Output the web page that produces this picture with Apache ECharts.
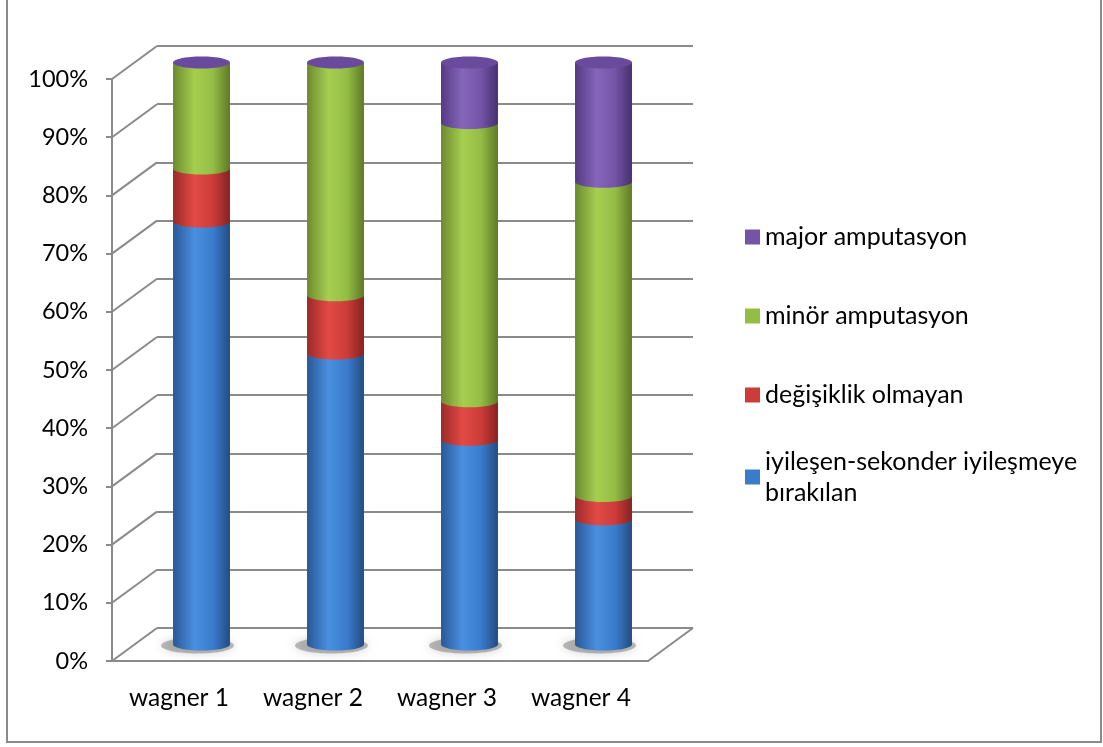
<!DOCTYPE html>
<html>
<head>
<meta charset="utf-8">
<script src="https://cdn.jsdelivr.net/npm/echarts@6/dist/echarts.min.js"></script>
<style>
html, body { margin: 0; padding: 0; background: #fff; }
#chart { width: 1103px; height: 747px; }
</style>
</head>
<body>
<div id="chart"></div>
<script>
// values (percent of each wagner group)
const categories = ['wagner 1', 'wagner 2', 'wagner 3', 'wagner 4']
const iyilesen = [72.7, 50, 35.2, 21.5]
const degisiklik = [9.1, 10, 6.6, 4]
const minor = [18.2, 40, 47.8, 54]
const major = [0, 0, 10.4, 20.5]
const yTicks = [0, 10, 20, 30, 40, 50, 60, 70, 80, 90, 100]

const seriesNames = ['iyileşen-sekonder iyileşmeye\nbırakılan', 'değişiklik olmayan', 'minör amputasyon', 'major amputasyon']
const seriesValues = [iyilesen, degisiklik, minor, major]
// [dark edge, highlight, mid, right edge]
const shades = [
    ['#2a5896', '#4a8fe0', '#3a7ccc', '#244c82'],
    ['#9c2a28', '#e24a46', '#cc3c39', '#862220'],
    ['#6c8a2e', '#a6cf50', '#94bd45', '#5e7a26'],
    ['#543a82', '#8566bb', '#7354a6', '#48306f']
]
const capColor = '#6a4a9d'
const gridColor = '#8a8a8a'
const fontName = 'Lato, "Liberation Sans", sans-serif'

// depth of the 3d box in pixels
const dx = 45, dy = -33
const front = { left: 112, right: 455, top: 79, bottom: 86 }

function cylinder(k) {
    return function (params, api) {
        const i = api.value(0)
        const base = api.value(1)
        const top = api.value(2)
        const pBot = api.coord([i, base])
        const pTop = api.coord([i, top])
        const w = api.size([1, 0])[0] * 0.425
        const rx = w / 2, ry = 6, cx = pBot[0]
        const s = shades[k]
        const fill = new echarts.graphic.LinearGradient(0, 0, 1, 0, [
            { offset: 0, color: s[0] },
            { offset: 0.38, color: s[1] },
            { offset: 0.7, color: s[2] },
            { offset: 1, color: s[3] }
        ])
        const children = []
        if (k === 0) {
            // soft shadow on the floor
            children.push({
                type: 'ellipse',
                shape: { cx: cx - 4, cy: pBot[1] + 1, rx: rx + 8, ry: ry + 2 },
                style: { fill: 'rgba(70,70,70,0.35)', shadowBlur: 10, shadowColor: 'rgba(0,0,0,0.45)' }
            })
        }
        if (top > base) {
            children.push({
                type: 'rect',
                shape: { x: cx - rx, y: pTop[1], width: w, height: pBot[1] - pTop[1] },
                style: { fill: fill }
            })
            children.push({
                type: 'ellipse',
                shape: { cx: cx, cy: pBot[1], rx: rx, ry: ry },
                style: { fill: fill }
            })
        }
        if (k === seriesValues.length - 1) {
            children.push({
                type: 'ellipse',
                shape: { cx: cx, cy: pTop[1], rx: rx, ry: ry },
                style: { fill: capColor }
            })
        }
        return { type: 'group', children: children }
    }
}

// stack the segments by hand
const stacked = []
const running = categories.map(() => 0)
seriesValues.forEach((vals, k) => {
    stacked.push(vals.map((v, i) => {
        const b = running[i]
        running[i] += v
        return [i, b, b + v]
    }))
})

const cylinderSeries = seriesNames.map((name, k) => ({
    name: name,
    type: 'custom',
    xAxisIndex: 2,
    yAxisIndex: 2,
    itemStyle: { color: shades[k][2] },
    encode: { x: 0, y: [1, 2] },
    data: stacked[k],
    renderItem: cylinder(k),
    silent: true
}))

const legendText = { fontSize: 25, lineHeight: 31, color: '#000', fontFamily: fontName }

const myChart = echarts.init(document.getElementById('chart'))
myChart.setOption({
    animation: false,
    textStyle: { fontFamily: fontName },
    graphic: [{
        type: 'rect',
        shape: { x: 7, y: -5, width: 1094, height: 747 },
        style: { fill: 'none', stroke: gridColor, lineWidth: 2 },
        silent: true
    }],
    legend: [{
        orient: 'vertical',
        left: 745,
        top: 221.5,
        padding: 0,
        itemGap: 48,
        itemWidth: 15,
        itemHeight: 15,
        icon: 'rect',
        selectedMode: false,
        textStyle: legendText,
        data: [seriesNames[3], seriesNames[2], seriesNames[1]]
    }, {
        orient: 'vertical',
        left: 745,
        top: 430.5,
        padding: 0,
        itemWidth: 15,
        itemHeight: 15,
        icon: 'rect',
        selectedMode: false,
        textStyle: legendText,
        data: [{ name: seriesNames[0], textStyle: { padding: [31, 0, 0, 0] } }]
    }],
    grid: [
        front,
        { left: front.left + dx, right: front.right - dx, top: front.top + dy, bottom: front.bottom - dy },
        { left: front.left + dx / 2, right: front.right - dx / 2, top: front.top + dy / 2, bottom: front.bottom - dy / 2 }
    ],
    xAxis: [{
        gridIndex: 0,
        type: 'category',
        data: categories,
        axisLine: { lineStyle: { color: gridColor, width: 2 } },
        axisTick: { length: 7, lineStyle: { color: gridColor, width: 2 } },
        axisLabel: { fontSize: 24.5, color: '#000', margin: 25, fontFamily: fontName }
    }, {
        gridIndex: 1, type: 'category', data: categories, show: false
    }, {
        gridIndex: 2, type: 'category', data: categories, show: false
    }],
    yAxis: [{
        gridIndex: 0,
        type: 'value',
        min: 0, max: 100, interval: 10,
        axisLine: { show: true, lineStyle: { color: gridColor, width: 2 } },
        axisTick: { show: true, length: 6, lineStyle: { color: gridColor, width: 2 } },
        axisLabel: { formatter: '{value}%', fontSize: 23.5, color: '#000', margin: 24, fontFamily: fontName },
        splitLine: { show: false }
    }, {
        gridIndex: 1,
        type: 'value',
        min: 0, max: 100, interval: 10,
        axisLine: { show: false },
        axisTick: { show: false },
        axisLabel: { show: false },
        splitLine: { show: true, lineStyle: { color: gridColor, width: 2 } }
    }, {
        gridIndex: 2,
        type: 'value',
        min: 0, max: 100, interval: 10,
        show: false
    }],
    series: [{
        // diagonal lines joining the front axis to the back wall
        type: 'custom',
        xAxisIndex: 0,
        yAxisIndex: 0,
        silent: true,
        encode: { x: 0, y: 1 },
        data: yTicks.map(v => [0, v]),
        renderItem(params, api) {
            const x0 = params.coordSys.x
            const y = api.coord([0, api.value(1)])[1]
            const style = { stroke: gridColor, lineWidth: 2 }
            const children = [{ type: 'line', shape: { x1: x0, y1: y, x2: x0 + dx, y2: y + dy }, style: style }]
            if (api.value(1) === 0) {
                const x1 = x0 + params.coordSys.width
                children.push({ type: 'line', shape: { x1: x1, y1: y, x2: x1 + dx, y2: y + dy }, style: style })
            }
            return { type: 'group', children: children }
        }
    }].concat(cylinderSeries)
})
</script>
</body>
</html>
